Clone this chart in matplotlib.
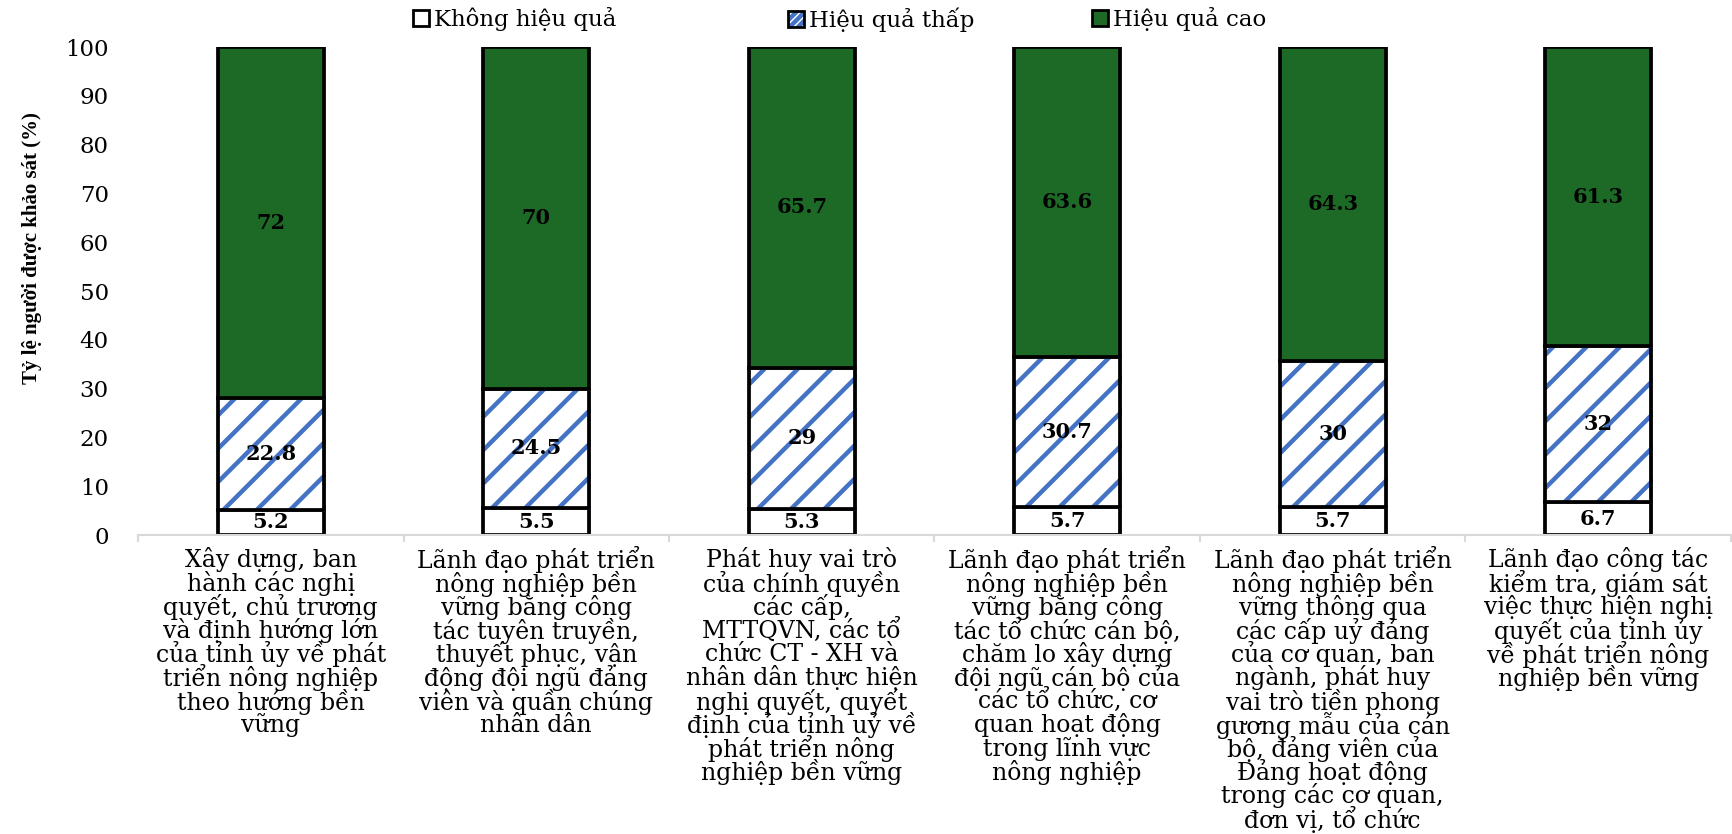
import matplotlib
matplotlib.use("Agg")
import matplotlib.pyplot as plt
from matplotlib.patches import Patch
from matplotlib.legend_handler import HandlerTuple
import matplotlib.patheffects as pe
import numpy as np

plt.rcParams['font.family'] = ['DejaVu Serif']
plt.rcParams['hatch.linewidth'] = 3.2

# ---- data ----
category_lines = [
    ["Xây dựng, ban", "hành các nghị", "quyết, chủ trương", "và định hướng lớn",
     "của tỉnh ủy về phát", "triển nông nghiệp", "theo hướng bền", "vững"],
    ["Lãnh đạo phát triển", "nông nghiệp bền", "vững bằng công", "tác tuyên truyền,",
     "thuyết phục, vận", "động đội ngũ đảng", "viên và quần chúng", "nhân dân"],
    ["Phát huy vai trò", "của chính quyền", "các cấp,", "MTTQVN, các tổ",
     "chức CT - XH và", "nhân dân thực hiện", "nghị quyết, quyết",
     "định của tỉnh uỷ về", "phát triển nông", "nghiệp bền vững"],
    ["Lãnh đạo phát triển", "nông nghiệp bền", "vững bằng công", "tác tổ chức cán bộ,",
     "chăm lo xây dựng", "đội ngũ cán bộ của", "các tổ chức, cơ", "quan hoạt động",
     "trong lĩnh vực", "nông nghiệp"],
    ["Lãnh đạo phát triển", "nông nghiệp bền", "vững thông qua", "các cấp uỷ đảng",
     "của cơ quan, ban", "ngành, phát huy", "vai trò tiền phong", "gương mẫu của cán",
     "bộ, đảng viên của", "Đảng hoạt động", "trong các cơ quan,", "đơn vị, tổ chức"],
    ["Lãnh đạo công tác", "kiểm tra, giám sát", "việc thực hiện nghị", "quyết của tỉnh ủy",
     "về phát triển nông", "nghiệp bền vững"],
]
khong_hieu_qua = [5.2, 5.5, 5.3, 5.7, 5.7, 6.7]
hieu_qua_thap = [22.8, 24.5, 29, 30.7, 30, 32]
hieu_qua_cao = [72, 70, 65.7, 63.6, 64.3, 61.3]
series_names = ["Không hiệu quả", "Hiệu quả thấp", "Hiệu quả cao"]
y_ticks = [0, 10, 20, 30, 40, 50, 60, 70, 80, 90, 100]
y_label = "Tỷ lệ người được khảo sát (%)"

GREEN = '#1D6A27'
BLUE = '#4472C4'

fig = plt.figure(figsize=(17.33, 8.34), dpi=100)
ax = fig.add_axes([138/1733, 1 - 535/834, (1731 - 138)/1733, (535 - 47)/834])

x = np.arange(len(category_lines))
w = 0.4
shadow = [pe.SimplePatchShadow(offset=(1.5, -1.5), shadow_rgbFace='#8c8c8c', alpha=0.6), pe.Normal()]

b1 = np.array(khong_hieu_qua)
b2 = b1 + np.array(hieu_qua_thap)

ax.bar(x, khong_hieu_qua, w, color='white', edgecolor='black', linewidth=2.7, zorder=2,
       path_effects=shadow)
ax.bar(x, hieu_qua_thap, w, bottom=b1, color='white', edgecolor=BLUE, linewidth=0,
       hatch='/', zorder=2, path_effects=shadow)
ax.bar(x, hieu_qua_thap, w, bottom=b1, fill=False, edgecolor='black', linewidth=2.7, zorder=3)
ax.bar(x, hieu_qua_cao, w, bottom=b2, color=GREEN, edgecolor='black', linewidth=2.7, zorder=3,
       path_effects=shadow)

# value labels
for xi, v0, v1, v2 in zip(x, khong_hieu_qua, hieu_qua_thap, hieu_qua_cao):
    ax.text(xi, v0 / 2, f"{v0:g}", ha='center', va='center', fontsize=15, fontweight='bold', zorder=5)
    ax.text(xi, v0 + v1 / 2, f"{v1:g}", ha='center', va='center', fontsize=15, fontweight='bold', zorder=5)
    ax.text(xi, v0 + v1 + v2 / 2, f"{v2:g}", ha='center', va='center', fontsize=15, fontweight='bold', zorder=5)

ax.set_xlim(-0.5, len(category_lines) - 0.5)
ax.set_ylim(0, 100)

ax.set_xticks(np.arange(-0.5, len(category_lines), 1.0))
ax.set_xticklabels([])
ax.tick_params(axis='x', direction='out', length=5, width=1.5, color='#D9D9D9')

ax.set_yticks(y_ticks)
ax.set_yticklabels([str(t) for t in y_ticks], fontsize=16.5)
ax.tick_params(axis='y', length=0, pad=21)

for s in ['top', 'right', 'left']:
    ax.spines[s].set_visible(False)
ax.spines['bottom'].set_color('#D9D9D9')
ax.spines['bottom'].set_linewidth(1.5)

# category labels, one line per text at fixed spacing
px = 0.72
for i, lines in enumerate(category_lines):
    for j, line in enumerate(lines):
        ax.annotate(line, xy=(x[i], 0), xycoords=('data', 'axes fraction'),
                    xytext=(0, -(25 + j * 23.6) * px), textcoords='offset points',
                    ha='center', va='center', fontsize=17, annotation_clip=False)

ax.set_ylabel(y_label, fontsize=15, fontweight='bold', family='Liberation Serif', va='center')
ax.yaxis.set_label_coords(-0.0665, 0.588)

# legend entries
h0 = Patch(facecolor='white', edgecolor='black', linewidth=2)
h1 = (Patch(facecolor='white', edgecolor=BLUE, linewidth=0, hatch='////'),
      Patch(fill=False, edgecolor='black', linewidth=2))
h2 = Patch(facecolor=GREEN, edgecolor='black', linewidth=2)
legend_x = [413, 788, 1092]
for hx, h, name in zip(legend_x, [h0, h1, h2], series_names):
    fig.legend(handles=[h], labels=[name], loc='center left',
               bbox_to_anchor=(hx / 1733, 1 - 19.5 / 834), frameon=False,
               borderpad=0, borderaxespad=0, handlelength=0.7, handleheight=0.7,
               handletextpad=0.2, fontsize=16.5,
               handler_map={tuple: HandlerTuple(ndivide=1)})

fig.savefig("out.png", dpi=100)
